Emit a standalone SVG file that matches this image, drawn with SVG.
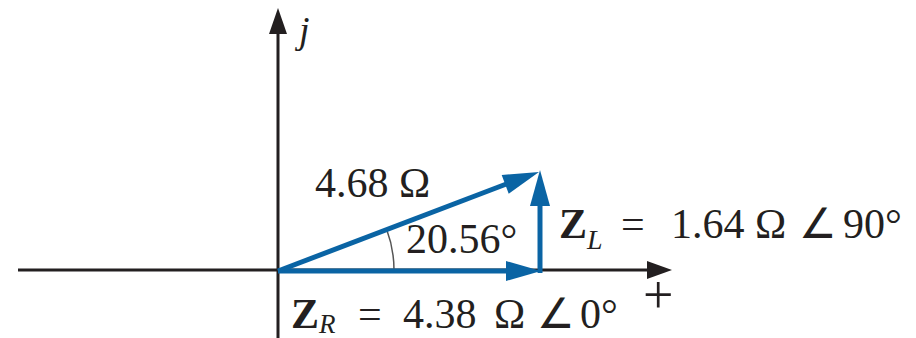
<svg xmlns="http://www.w3.org/2000/svg" width="916" height="338" viewBox="0 0 916 338">
<style>
.ax{stroke:#231f20;stroke-width:3;fill:none}
.axh{fill:#231f20}
.vec{stroke:#0a64a4;stroke-width:5;fill:none}
.vh{fill:#0a64a4}
.t{font-family:"Liberation Serif","Times New Roman",serif;font-size:42px;fill:#231f20}
.b{font-weight:bold}
.i{font-style:italic}
</style>
<rect width="916" height="338" fill="#fff"/>
<g id="axes">
<line class="ax" x1="18" y1="270" x2="652" y2="270"/>
<polygon class="axh" points="672,270 647,261 647,279"/>
<line class="ax" x1="278" y1="338" x2="278" y2="30"/>
<polygon class="axh" points="278,8 269,34 287,34"/>
<text class="t i" x="299" y="43" style="font-size:38px">j</text>
<text class="t" x="643" y="313" style="font-size:54px">+</text>
</g>
<g id="angle">
<path d="M 394 270 A 116 116 0 0 0 386.6 229.3" stroke="#555" stroke-width="1.5" fill="none"/>
<text class="t" x="406" y="253">20.56°</text>
</g>
<g id="connectors">
<g id="ZR">
<line class="vec" x1="278" y1="271" x2="510" y2="271"/>
<polygon class="vh" points="541,271 506,261 506,281"/>
</g>
<g id="ZL">
<line class="vec" x1="540" y1="273" x2="540" y2="203"/>
<polygon class="vh" points="540,170 530,206 550,206"/>
</g>
<g id="Z">
<line class="vec" x1="278" y1="271" x2="509" y2="183"/>
<polygon class="vh" points="539,172 508.7,193.7 501.7,174.9"/>
</g>
</g>
<g id="label-Z">
<text class="t" x="315" y="197">4.68 Ω</text>
</g>
<g id="label-ZL">
<text class="t"><tspan class="b" x="559" y="238">Z</tspan><tspan class="i" font-size="28" y="249">L</tspan><tspan x="621" y="238">=</tspan><tspan x="671" y="238">1.64</tspan><tspan x="755" y="238">Ω</tspan><tspan x="799" y="238">∠</tspan><tspan x="843" y="238">90°</tspan></text>
</g>
<g id="label-ZR">
<text class="t"><tspan class="b" x="291" y="328">Z</tspan><tspan class="i" font-size="27" y="333">R</tspan><tspan x="358" y="328">=</tspan><tspan x="403" y="328">4.38</tspan><tspan x="494" y="328">Ω</tspan><tspan x="537" y="328">∠</tspan><tspan x="580" y="328">0°</tspan></text>
</g>
</svg>
